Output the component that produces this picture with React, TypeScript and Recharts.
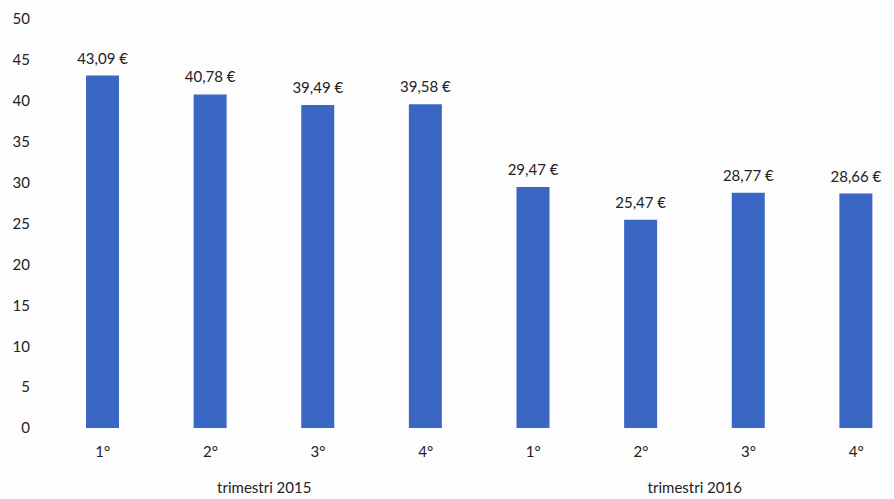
import React from 'react';
import { BarChart, Bar, XAxis, YAxis, LabelList } from 'recharts';

const quarters = ['1°', '2°', '3°', '4°', '1°', '2°', '3°', '4°'];
const years = ['2015', '2015', '2015', '2015', '2016', '2016', '2016', '2016'];
const prices = [43.09, 40.78, 39.49, 39.58, 29.47, 25.47, 28.77, 28.66];
const yTicks = [0, 5, 10, 15, 20, 25, 30, 35, 40, 45, 50];
const groupLabels: Record<string, string> = { '2015': 'trimestri 2015', '2016': 'trimestri 2016' };

const data = quarters.map((q, i) => ({ key: i, quarter: q, year: years[i], price: prices[i] }));

const W = 920;
const H = 499;
const M = { top: 19, right: 10, left: 0, bottom: 0 };
const Y_W = 49;
const X_H = 71;
const FONT = 'Lato, "Open Sans", sans-serif';
const TEXT = '#222';
const BAR = '#3a66c4';
const halfBand = (W - M.left - M.right - Y_W) / quarters.length / 2;

const fmt = (v: number) => v.toFixed(2).replace('.', ',') + ' €';

const XTick = (props: any) => {
  const { x, y, payload, index } = props;
  const i = payload.index ?? index;
  const showGroup = i % 4 === 1;
  return (
    <g>
      <text x={x} y={y + 21} textAnchor="middle" fill={TEXT} fontSize={15} fontFamily={FONT}>
        {quarters[i]}
      </text>
      {showGroup && (
        <text x={x + halfBand} y={y + 57} textAnchor="middle" fill={TEXT} fontSize={15} fontFamily={FONT}>
          {groupLabels[years[i]]}
        </text>
      )}
    </g>
  );
};

const ValueLabel = (props: any) => {
  const { x, y, width, value } = props;
  return (
    <text x={x + width / 2} y={y - 12} textAnchor="middle" fill={TEXT} fontSize={15} fontFamily={FONT}>
      {fmt(Number(value))}
    </text>
  );
};

export default function App() {
  return (
    <div style={{ position: 'absolute', left: 0, top: 0, width: 894, height: 499, overflow: 'hidden', background: '#fdfdfe' }}>
      <BarChart width={W} height={H} data={data} margin={M}>
        <XAxis
          dataKey="key"
          height={X_H}
          axisLine={false}
          tickLine={false}
          tick={<XTick />}
          interval={0}
        />
        <YAxis
          width={Y_W}
          domain={[0, 50]}
          ticks={yTicks}
          axisLine={false}
          tickLine={false}
          tickSize={0}
          tickMargin={19}
          interval={0}
          tick={{ fill: TEXT, fontSize: 15, fontFamily: FONT }}
        />
        <Bar dataKey="price" fill={BAR} barSize={33} isAnimationActive={false}>
          <LabelList dataKey="price" content={<ValueLabel />} />
        </Bar>
      </BarChart>
    </div>
  );
}
